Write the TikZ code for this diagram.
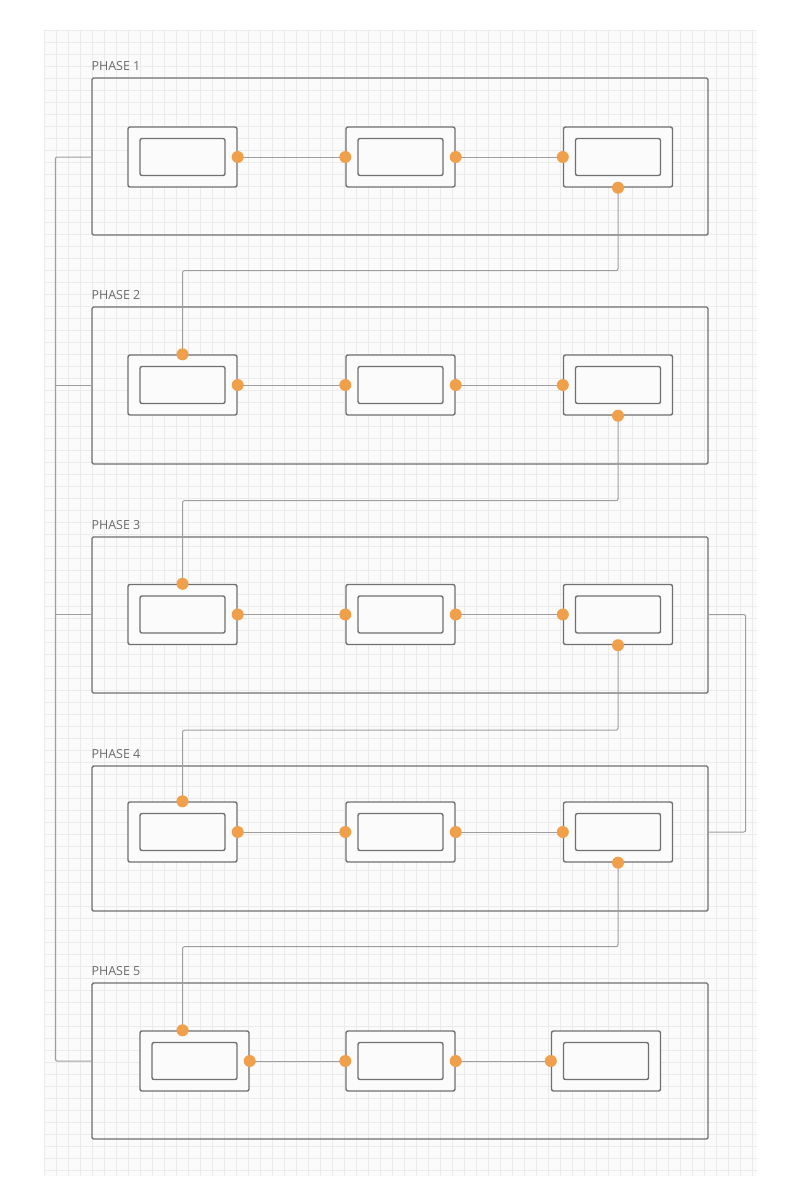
\documentclass[tikz,border=0pt]{standalone}
\usepackage{fontspec}
\setmainfont{Open Sans}
\usepackage{tikz}
\usetikzlibrary{positioning}
\definecolor{boxgray}{HTML}{707070}
\definecolor{linkgray}{HTML}{9E9E9E}
\definecolor{labelgray}{HTML}{6A6A6A}
\definecolor{dotorange}{HTML}{F0A04B}
\definecolor{gridgray}{HTML}{EBEBEB}
\definecolor{papergray}{HTML}{FBFBFB}
\tikzstyle{phase} = [rectangle, draw=boxgray, line width=1.4pt, rounded corners=1.5pt,
                     minimum width=616pt, inner sep=0pt]
\tikzstyle{block} = [rectangle, draw=boxgray, line width=1.4pt, rounded corners=2pt,
                     fill=papergray, minimum width=109pt, minimum height=60pt, inner sep=0pt]
\tikzstyle{innerbox} = [rectangle, draw=boxgray, line width=1.4pt, rounded corners=2pt,
                     fill=papergray, minimum width=85pt, minimum height=37pt, inner sep=0pt]
\tikzstyle{port} = [circle, fill=dotorange, minimum size=12pt, inner sep=0pt]
\tikzstyle{link} = [draw=linkgray, line width=1pt, rounded corners=2pt]
\tikzstyle{phaselabel} = [text=labelgray, font=\fontsize{12.5}{14}\selectfont, inner sep=0pt]
\begin{document}
\begin{tikzpicture}[x=1pt,y=-1pt]
\useasboundingbox (0,0) rectangle (800,1200);
% Grid paper
\fill[papergray, rounded corners=3pt] (44,30) rectangle (757,1176);
\foreach \gx in {0,12,...,708} \draw[gridgray, line width=0.8pt] (44+\gx,30) -- (44+\gx,1176);
\foreach \gy in {0,12,...,1140} \draw[gridgray, line width=0.8pt] (44,30+\gy) -- (757,30+\gy);

% Phases
\node[phase, minimum height=157pt] (phase1) at (400,156.5) {};
\node[phase, minimum height=157pt] (phase2) at (400,385.5) {};
\node[phase, minimum height=156pt] (phase3) at (400,615) {};
\node[phase, minimum height=145pt] (phase4) at (400,838.5) {};
\node[phase, minimum height=156pt] (phase5) at (400,1061) {};
\node[phaselabel, above right=6pt and 0pt of phase1.north west] (label1) {PHASE 1};
\node[phaselabel, above right=6pt and 0pt of phase2.north west] (label2) {PHASE 2};
\node[phaselabel, above right=6pt and 0pt of phase3.north west] (label3) {PHASE 3};
\node[phaselabel, above right=6pt and 0pt of phase4.north west] (label4) {PHASE 4};
\node[phaselabel, above right=6pt and 0pt of phase5.north west] (label5) {PHASE 5};

% Steps
\node[block] (box11) at (182.5,157) {};
\node[block] (box12) at (400.5,157) {};
\node[block] (box13) at (618,157) {};
\node[block] (box21) at (182.5,385) {};
\node[block] (box22) at (400.5,385) {};
\node[block] (box23) at (618,385) {};
\node[block] (box31) at (182.5,614.5) {};
\node[block] (box32) at (400.5,614.5) {};
\node[block] (box33) at (618,614.5) {};
\node[block] (box41) at (182.5,832) {};
\node[block] (box42) at (400.5,832) {};
\node[block] (box43) at (618,832) {};
\node[block] (box51) at (194.5,1061) {};
\node[block] (box52) at (400.5,1061) {};
\node[block] (box53) at (606,1061) {};
\node[innerbox] (in11) at (box11) {};
\node[innerbox] (in12) at (box12) {};
\node[innerbox] (in13) at (box13) {};
\node[innerbox] (in21) at (box21) {};
\node[innerbox] (in22) at (box22) {};
\node[innerbox] (in23) at (box23) {};
\node[innerbox] (in31) at (box31) {};
\node[innerbox] (in32) at (box32) {};
\node[innerbox] (in33) at (box33) {};
\node[innerbox] (in41) at (box41) {};
\node[innerbox] (in42) at (box42) {};
\node[innerbox] (in43) at (box43) {};
\node[innerbox] (in51) at (box51) {};
\node[innerbox] (in52) at (box52) {};
\node[innerbox] (in53) at (box53) {};
\coordinate (top51) at (box41.north |- box51.north);

% Links
\draw[link] (box11.east) -- (box12.west);
\draw[link] (box12.east) -- (box13.west);
\draw[link] (box13.south) -- ++(0,83) -| (box21.north);
\draw[link] (box21.east) -- (box22.west);
\draw[link] (box22.east) -- (box23.west);
\draw[link] (box23.south) -- ++(0,85) -| (box31.north);
\draw[link] (box31.east) -- (box32.west);
\draw[link] (box32.east) -- (box33.west);
\draw[link] (box33.south) -- ++(0,85) -| (box41.north);
\draw[link] (box41.east) -- (box42.west);
\draw[link] (box42.east) -- (box43.west);
\draw[link] (box43.south) -- ++(0,84) -| (top51);
\draw[link] (box51.east) -- (box52.west);
\draw[link] (box52.east) -- (box53.west);
% Side links
\draw[link] (phase1.west |- box11.west) -- ++(-36,0) |- (phase5.west);
\draw[link] (phase2.west |- box21.west) -- ++(-36,0);
\draw[link] (phase3.west |- box31.west) -- ++(-36,0);
\draw[link] (phase3.east |- box33.east) -- ++(37,0) |- (phase4.east |- box43.east);

% Ports
\node[port] (p11e) at (box11.east) {};
\node[port] (p12w) at (box12.west) {};
\node[port] (p12e) at (box12.east) {};
\node[port] (p13w) at (box13.west) {};
\node[port] (p13s) at (box13.south) {};
\node[port] (p21n) at (box21.north) {};
\node[port] (p21e) at (box21.east) {};
\node[port] (p22w) at (box22.west) {};
\node[port] (p22e) at (box22.east) {};
\node[port] (p23w) at (box23.west) {};
\node[port] (p23s) at (box23.south) {};
\node[port] (p31n) at (box31.north) {};
\node[port] (p31e) at (box31.east) {};
\node[port] (p32w) at (box32.west) {};
\node[port] (p32e) at (box32.east) {};
\node[port] (p33w) at (box33.west) {};
\node[port] (p33s) at (box33.south) {};
\node[port] (p41n) at (box41.north) {};
\node[port] (p41e) at (box41.east) {};
\node[port] (p42w) at (box42.west) {};
\node[port] (p42e) at (box42.east) {};
\node[port] (p43w) at (box43.west) {};
\node[port] (p43s) at (box43.south) {};
\node[port] (p51n) at (top51) {};
\node[port] (p51e) at (box51.east) {};
\node[port] (p52w) at (box52.west) {};
\node[port] (p52e) at (box52.east) {};
\node[port] (p53w) at (box53.west) {};
\end{tikzpicture}
\end{document}
